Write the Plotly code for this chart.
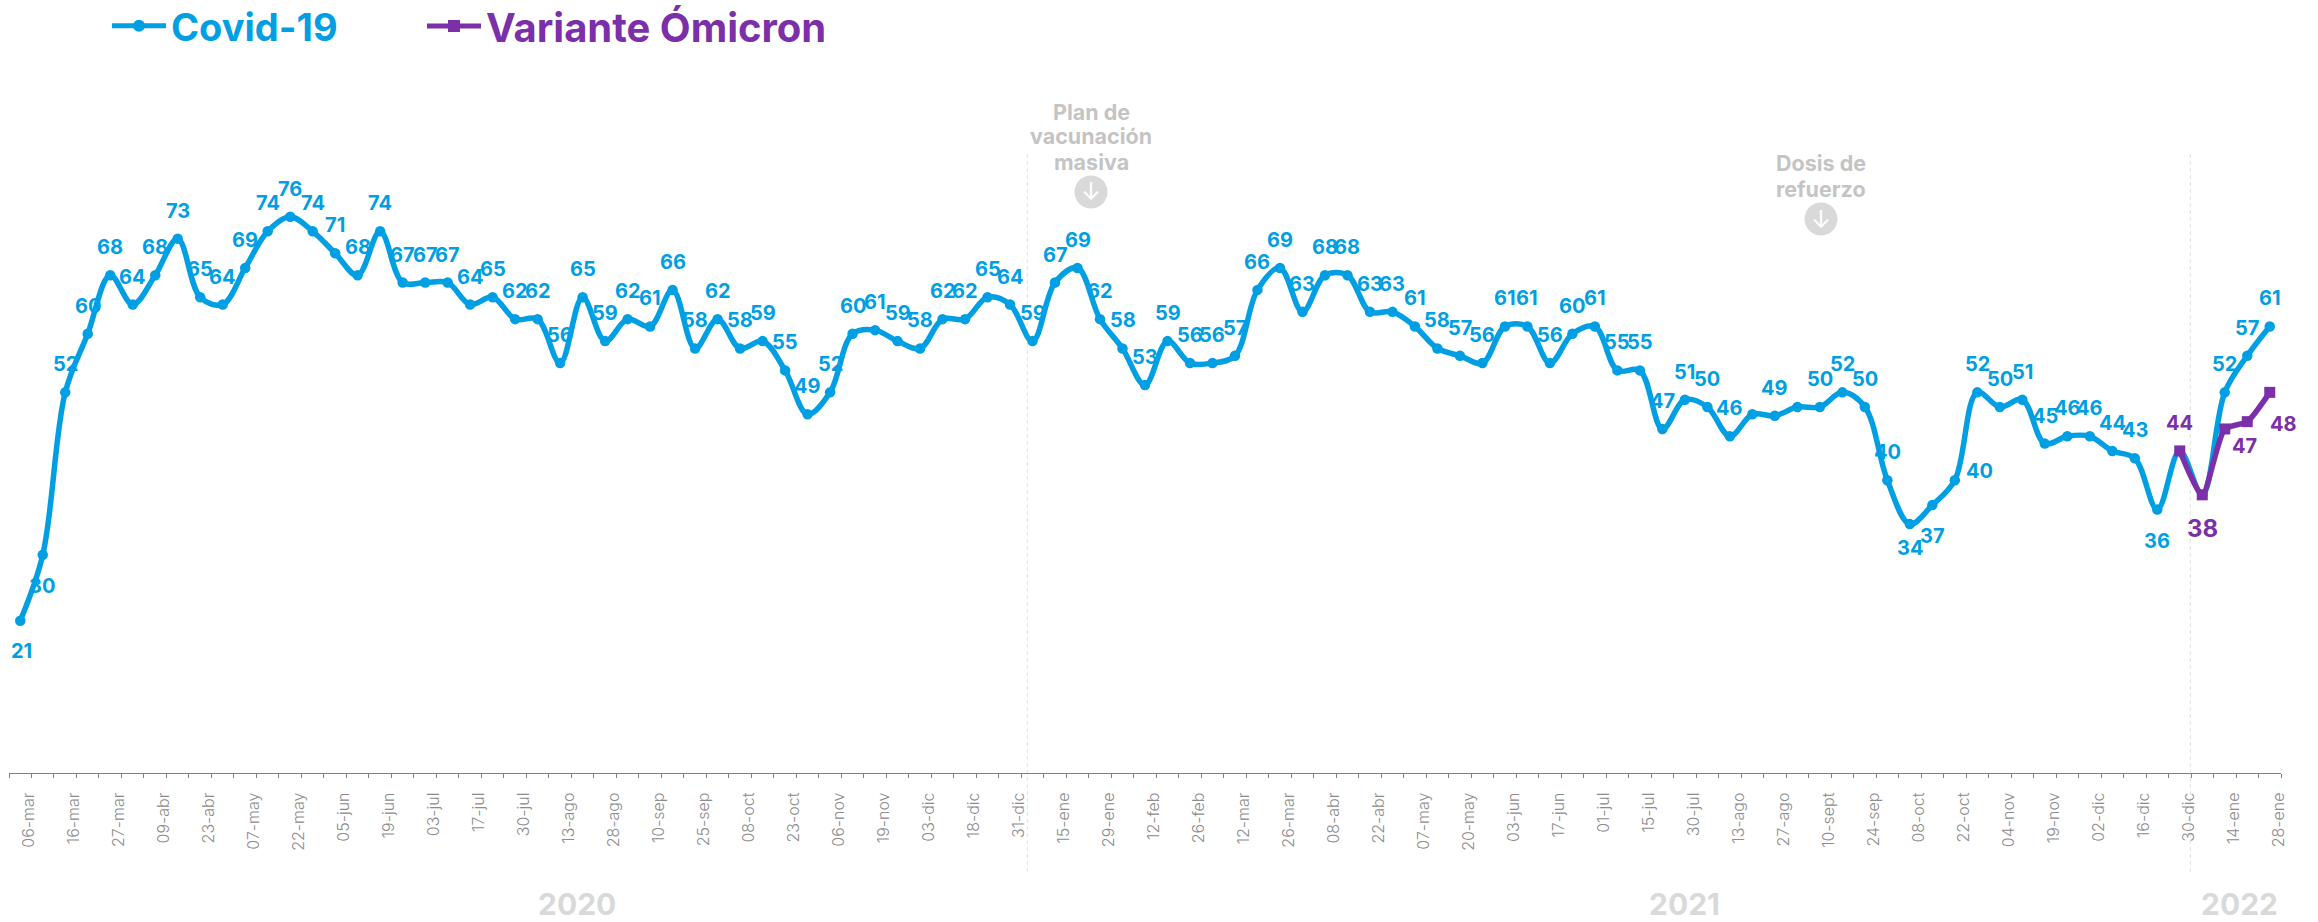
import plotly.graph_objects as go

tick_labels = ["06-mar","16-mar","27-mar","09-abr","23-abr","07-may","22-may","05-jun","19-jun","03-jul","17-jul","30-jul","13-ago","28-ago","10-sep","25-sep","08-oct","23-oct","06-nov","19-nov","03-dic","18-dic","31-dic","15-ene","29-ene","12-feb","26-feb","12-mar","26-mar","08-abr","22-abr","07-may","20-may","03-jun","17-jun","01-jul","15-jul","30-jul","13-ago","27-ago","10-sept","24-sep","08-oct","22-oct","04-nov","19-nov","02-dic","16-dic","30-dic","14-ene","28-ene"]

covid = [20.8,29.8,52,60,68,64,68,73,65,64,69,74,76,74,71,68,74,67,67,67,64,65,62,62,56,65,59,62,61,66,58,62,58,59,55,
         49,52,60,60.5,59,58,62,62,65,64,59,67,69,62,58,53,59,56,56,57,66,69,63,68,68,63,63,61,58,57,56,61,61,56,60,
         61,55,55,47,51,50,46,49,48.8,50,50,52,50,40,34,36.6,40,52,50,51,45,46,46,44,43,36,44,38,52,57,61]
covid_labels = [21,30,52,60,68,64,68,73,65,64,69,74,76,74,71,68,74,67,67,67,64,65,62,62,56,65,59,62,61,66,58,62,58,59,55,
         49,52,60,61,59,58,62,62,65,64,59,67,69,62,58,53,59,56,56,57,66,69,63,68,68,63,63,61,58,57,56,61,61,56,60,
         61,55,55,47,51,50,46,None,49,None,50,52,50,40,34,37,40,52,50,51,45,46,46,44,43,36,None,None,52,57,61]
omicron_x = [96,97,98,99,100]
omicron = [44,38,47,48,52]
omicron_labels = [44,38,47,48,None]
years = ["2020","2021","2022"]

BLUE = "#009FE3"
PURPLE = "#7B2FA8"
GRAY_TXT = "#C4C4C4"
FONT = "Inter"

W, H = 2318, 922
L, R, T, B = 9, 37, 100, 149
PX_PER_UNIT = 7.32
Y_TOP = (H - T - B) / PX_PER_UNIT

x = list(range(len(covid)))
fig = go.Figure()
fig.add_trace(go.Scatter(x=x, y=covid, mode="lines+markers", name=f'<span style="color:{BLUE}">Covid-19</span>',
    line=dict(color=BLUE, width=5.5, shape="spline", smoothing=1.0),
    marker=dict(color=BLUE, size=10.5, symbol="circle"), cliponaxis=False, legend="legend", showlegend=True))
fig.add_trace(go.Scatter(x=omicron_x, y=omicron, mode="lines+markers", name=f'<span style="color:{PURPLE}">Variante Ómicron</span>',
    line=dict(color=PURPLE, width=5.5, shape="spline", smoothing=0.6),
    marker=dict(color=PURPLE, size=11, symbol="square"), cliponaxis=False, legend="legend2", showlegend=True))

ann = []
covid_shift = {0:(1,-30), 1:(-1,-31), 84:(0,-24), 85:(0,-31), 86:(25,9), 95:(0,-32)}
for i, (v, t) in enumerate(zip(covid, covid_labels)):
    if t is None:
        continue
    dx, dy = covid_shift.get(i, (0, 28))
    ann.append(dict(x=i, y=v, text=str(t), showarrow=False, xanchor="center", yanchor="middle",
                    xshift=dx, yshift=dy, font=dict(family=FONT, size=20, color=BLUE, weight=700)))
omi_shift = {96:(0,28,20), 97:(0,-34,24), 98:(20,-17,20), 99:(36,-2,20)}
for i, v, t in zip(omicron_x, omicron, omicron_labels):
    if t is None:
        continue
    dx, dy, fs = omi_shift[i]
    ann.append(dict(x=i, y=v, text=str(t), showarrow=False, xanchor="center", yanchor="middle",
                    xshift=dx, yshift=dy, font=dict(family=FONT, size=fs, color=PURPLE, weight=700)))

def py(px):
    """pixel row on the page -> paper fraction"""
    return (H - B - px) / (H - T - B)

# year labels
for yr, xx in zip(years, [24.73, 74.0, 98.65]):
    ann.append(dict(x=xx, xref="x", y=py(903.5), yref="paper", text=yr, showarrow=False, xanchor="center", yanchor="middle",
                    font=dict(family=FONT, size=30, color="#D9D9D9", weight=700)))

# milestone notes
shapes = []
for xx, lines, ys, cy in [(47.6, ["Plan de", "vacunación", "masiva"], [112, 136, 162], 192),
                          (80.05, ["Dosis de", "refuerzo"], [163, 189], 219)]:
    for s, yy in zip(lines, ys):
        ann.append(dict(x=xx, y=py(yy), yref="paper", text=s, showarrow=False, xanchor="center", yanchor="middle",
                        font=dict(family=FONT, size=21.5, color=GRAY_TXT, weight=700)))
    shapes.append(dict(type="circle", xref="x", yref="paper", xsizemode="pixel", ysizemode="pixel",
                       xanchor=xx, yanchor=py(cy), x0=-16.5, x1=16.5, y0=-16.5, y1=16.5,
                       fillcolor="#D9D9D9", line=dict(width=0)))
    ann.append(dict(x=xx, y=py(cy), yref="paper", text="↓", showarrow=False, xanchor="center", yanchor="middle",
                    font=dict(family=FONT, size=24, color="white", weight=400)))

for xx in [44.77, 96.47]:
    shapes.append(dict(type="line", xref="x", yref="paper", x0=xx, x1=xx, y0=py(872), y1=py(153),
                       line=dict(color="#E2E2E2", width=1, dash="4px,3px"), layer="below"))

legend_common = dict(orientation="h", xanchor="left", y=py(26), yanchor="middle",
                     itemwidth=54, itemsizing="constant", bgcolor="rgba(0,0,0,0)")

fig.update_layout(
    width=W, height=H, paper_bgcolor="white", plot_bgcolor="white",
    margin=dict(l=L, r=R, t=T, b=B, pad=0, autoexpand=False),
    legend=dict(x=(107 - L) / (W - L - R), font=dict(family=FONT, size=38, weight=700), **legend_common),
    legend2=dict(x=(422 - L) / (W - L - R), font=dict(family=FONT, size=40, weight=700), **legend_common),
    xaxis=dict(range=[-0.5, 100.5], showgrid=False, zeroline=False, showline=True, linecolor="#808080", linewidth=1.2,
               tickmode="array", tickvals=list(range(0, 101, 2)), ticktext=tick_labels, tickangle=-90,
               ticks="", ticklabelstandoff=12, ticklabelshift=9,
               tickfont=dict(family=FONT, size=16, color="#8C8C8C", weight=300),
               minor=dict(tickmode="linear", tick0=-0.5, dtick=1, ticks="outside", ticklen=4, tickwidth=1, tickcolor="#808080", showgrid=False)),
    yaxis=dict(range=[0, Y_TOP], visible=False),
    annotations=ann, shapes=shapes,
)

fig.write_html("out.html", config=dict(displayModeBar=False),
               post_script="document.body.style.margin='0';document.body.style.overflow='hidden';")
